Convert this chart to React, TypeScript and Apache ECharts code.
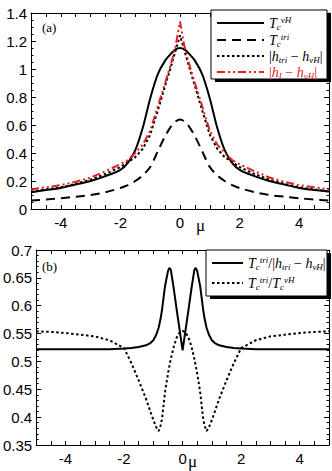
import React, { useEffect, useRef } from "react";
import * as echarts from "echarts";

// ---- Panel (a) data ----
const muTop = [-5, -4.5, -4, -3.5, -3, -2.5, -2, -1.75, -1.5, -1.25, -1, -0.75, -0.5, -0.3, -0.15, 0, 0.15, 0.3, 0.5, 0.75, 1, 1.25, 1.5, 1.75, 2, 2.5, 3, 3.5, 4, 4.5, 5];
const tcVH = [0.12, 0.135, 0.15, 0.175, 0.2, 0.235, 0.28, 0.33, 0.42, 0.58, 0.79, 0.96, 1.06, 1.11, 1.14, 1.15, 1.14, 1.11, 1.06, 0.96, 0.79, 0.58, 0.42, 0.33, 0.28, 0.235, 0.2, 0.175, 0.15, 0.135, 0.125];
const tcTri = [0.06, 0.068, 0.077, 0.088, 0.1, 0.12, 0.15, 0.17, 0.2, 0.24, 0.3, 0.41, 0.52, 0.59, 0.625, 0.64, 0.625, 0.59, 0.52, 0.41, 0.3, 0.24, 0.2, 0.17, 0.15, 0.12, 0.1, 0.088, 0.077, 0.068, 0.06];
const hTriVH = [0.125, 0.14, 0.155, 0.18, 0.21, 0.25, 0.3, 0.335, 0.37, 0.43, 0.53, 0.7, 0.88, 1.02, 1.13, 1.24, 1.13, 1.02, 0.88, 0.7, 0.53, 0.43, 0.37, 0.335, 0.3, 0.25, 0.21, 0.18, 0.155, 0.14, 0.125];
const hIVH = [0.14, 0.155, 0.17, 0.195, 0.225, 0.27, 0.32, 0.35, 0.4, 0.46, 0.56, 0.73, 0.9, 1.04, 1.16, 1.34, 1.16, 1.04, 0.9, 0.73, 0.56, 0.46, 0.4, 0.35, 0.32, 0.27, 0.225, 0.195, 0.17, 0.155, 0.14];

// ---- Panel (b) data ----
const muBot = [-5, -4.5, -4, -3.5, -3, -2.5, -2, -1.75, -1.5, -1.25, -1.1, -1, -0.9, -0.82, -0.75, -0.7, -0.6, -0.5, -0.45, -0.4, -0.3, -0.2, -0.1, 0, 0.1, 0.2, 0.3, 0.4, 0.45, 0.5, 0.6, 0.7, 0.75, 0.82, 0.9, 1, 1.1, 1.25, 1.5, 1.75, 2, 2.5, 3, 3.5, 4, 4.5, 5];
const ratioTriH = [0.522, 0.522, 0.522, 0.522, 0.522, 0.522, 0.523, 0.524, 0.526, 0.529, 0.533, 0.538, 0.548, 0.56, 0.577, 0.594, 0.635, 0.662, 0.668, 0.664, 0.63, 0.592, 0.556, 0.52, 0.556, 0.592, 0.63, 0.664, 0.668, 0.662, 0.635, 0.594, 0.577, 0.56, 0.548, 0.538, 0.533, 0.529, 0.526, 0.524, 0.523, 0.522, 0.522, 0.522, 0.522, 0.522, 0.522];
const ratioTriVH = [0.554, 0.553, 0.551, 0.548, 0.545, 0.538, 0.524, 0.497, 0.466, 0.433, 0.41, 0.395, 0.382, 0.375, 0.385, 0.398, 0.445, 0.478, 0.492, 0.505, 0.527, 0.543, 0.552, 0.555, 0.552, 0.543, 0.527, 0.505, 0.492, 0.478, 0.445, 0.398, 0.385, 0.375, 0.382, 0.395, 0.41, 0.433, 0.466, 0.497, 0.524, 0.538, 0.545, 0.548, 0.551, 0.553, 0.554];

const yTopTicks = { min: 0, max: 1.4, interval: 0.2 };
const yBotTicks = { min: 0.35, max: 0.7, interval: 0.05 };
const xTicks = { min: -5, max: 5, interval: 0.5 };

const RED = "#e3201b";
const SERIF = "Liberation Serif";
const SANS = "Liberation Sans";

const zip = (xs: number[], ys: number[]) => xs.map((x, i) => [x, ys[i]]);

const mk = (color: string) => ({
  T: { fontFamily: SERIF, fontStyle: "italic", fontSize: 14, lineHeight: 16, color },
  sb: { fontFamily: SERIF, fontStyle: "italic", fontSize: 9, lineHeight: 9, verticalAlign: "bottom", color },
  sp: { fontFamily: SERIF, fontStyle: "italic", fontSize: 9, lineHeight: 9, verticalAlign: "top", color },
  n: { fontFamily: SERIF, fontSize: 14, lineHeight: 16, color },
});
const blk = mk("#000");
const red = mk(RED);
const rich: any = {
  ...blk,
  rT: red.T, rsb: red.sb, rsp: red.sp, rn: red.n,
};

const labels: Record<string, string> = {
  TcVH: "{T|T}{sb|c}{sp|vH}",
  TcTri: "{T|T}{sb|c}{sp|tri}",
  hTri: "{n||}{T|h}{sb|tri}{n| − }{T|h}{sb|vH}{n||}",
  hI: "{rn||}{rT|h}{rsb|I}{rn| − }{rT|h}{rsb|vH}{rn||}",
  r1: "{T|T}{sb|c}{sp|tri}{n|/|}{T|h}{sb|tri}{n| − }{T|h}{sb|vH}{n||}",
  r2: "{T|T}{sb|c}{sp|tri}{n|/}{T|T}{sb|c}{sp|vH}",
};

export default function App() {
  const ref = useRef<HTMLDivElement>(null);
  useEffect(() => {
    if (!ref.current) return;
    const chart = echarts.init(ref.current, null, { renderer: "svg" });
    const axisLine = { show: true, onZero: false, lineStyle: { color: "#000", width: 1 } };
    const tick = { show: true, inside: true, length: 4, lineStyle: { color: "#000", width: 1 } };
    const lbl = { fontFamily: SANS, fontSize: 15, color: "#000" };
    const xAx = (gridIndex: number, position: string, show: boolean) => ({
      type: "value", gridIndex, position, ...xTicks,
      axisLine, axisTick: tick, splitLine: { show: false },
      axisLabel: show
        ? { show: true, ...lbl, margin: 6, formatter: (v: number) => (Math.abs(v % 2) < 1e-9 ? String(v) : "") }
        : { show: false },
    });
    const yAx = (gridIndex: number, position: string, show: boolean, t: any, minorSplit: number) => ({
      type: "value", gridIndex, position, ...t,
      axisLine, axisTick: { ...tick, length: 5 },
      minorTick: { show: true, splitNumber: minorSplit, length: 2.5, lineStyle: { color: "#000", width: 1 } },
      splitLine: { show: false },
      axisLabel: show ? { show: true, ...lbl, margin: 4 } : { show: false },
    });
    const line = (name: string, xs: number[], ys: number[], idx: number, color: string, type: any, smooth: any) => ({
      name, type: "line", xAxisIndex: idx, yAxisIndex: idx, data: zip(xs, ys),
      symbol: "none", showSymbol: false, smooth,
      lineStyle: { color, width: 2, type }, itemStyle: { color },
    });
    const legendBase = {
      orient: "vertical", backgroundColor: "transparent", borderWidth: 0, z: 10,
      itemHeight: 10, itemGap: 0, selectedMode: false,
      itemStyle: { color: "rgba(0,0,0,0)", borderWidth: 0, opacity: 0 },
      formatter: (n: string) => labels[n],
      textStyle: { rich, fontFamily: SERIF, fontSize: 14 },
    };
    const box = (x: number, y: number, w: number, h: number) => [
      { type: "rect", z: 5, shape: { x: x + 4, y: y + 3, width: w, height: h }, style: { fill: "#000" } },
      { type: "rect", z: 6, shape: { x, y, width: w, height: h }, style: { fill: "#fff", stroke: "#000", lineWidth: 1 } },
    ];
    chart.setOption({
      animation: false,
      grid: [
        { left: 31, top: 13, width: 300, height: 196 },
        { left: 31, top: 250, width: 300, height: 195 },
      ],
      xAxis: [xAx(0, "bottom", true), xAx(0, "top", false), xAx(1, "bottom", true), xAx(1, "top", false)],
      yAxis: [
        yAx(0, "left", true, yTopTicks, 4), yAx(0, "right", false, yTopTicks, 4),
        yAx(1, "left", true, yBotTicks, 5), yAx(1, "right", false, yBotTicks, 5),
      ],
      legend: [
        { ...legendBase, left: 211, top: 10, itemWidth: 47, padding: [5, 5, 5, 5], itemGap: 1, data: ["TcVH", "TcTri", "hTri", "hI"] },
        { ...legendBase, left: 206, top: 250, itemWidth: 31, padding: [5, 5, 5, 5], itemGap: 4, data: ["r1", "r2"] },
      ],
      series: [
        line("TcVH", muTop, tcVH, 0, "#000", "solid", 0.3),
        line("TcTri", muTop, tcTri, 0, "#000", [9, 6], 0.3),
        line("hTri", muTop, hTriVH, 0, "#000", [2.5, 2.5], false),
        line("hI", muTop, hIVH, 0, RED, [8, 3, 2, 3, 2, 3], false),
        line("r1", muBot, ratioTriH, 2, "#000", "solid", false),
        line("r2", muBot, ratioTriVH, 2, "#000", [2.5, 2.5], false),
      ],
      graphic: [
        ...box(211, 10, 116, 69),
        ...box(206, 250, 121, 46),
        { type: "text", left: 42, top: 21, style: { text: "(a)", fontFamily: SERIF, fontSize: 13, fill: "#000" } },
        { type: "text", left: 42, top: 260, style: { text: "(b)", fontFamily: SERIF, fontSize: 13, fill: "#000" } },
        { type: "text", left: 196, top: 217, style: { text: "μ", fontFamily: SERIF, fontSize: 17, fill: "#000" } },
        { type: "text", left: 188, top: 453, style: { text: "μ", fontFamily: SERIF, fontSize: 17, fill: "#000" } },
      ],
    });
    return () => chart.dispose();
  }, []);
  return <div ref={ref} style={{ position: "absolute", left: 0, top: 0, width: 332, height: 471 }} />;
}
